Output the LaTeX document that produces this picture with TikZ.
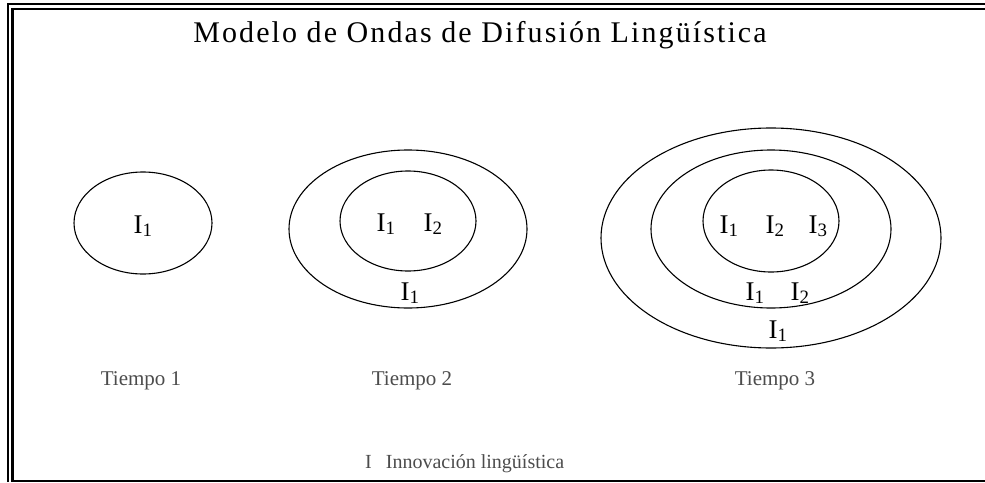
\documentclass[tikz,border=0pt]{standalone}
\usepackage{fontspec}
\setmainfont{Liberation Serif}
\usetikzlibrary{positioning}

\tikzset{
  wave/.style={line width=1.1pt},
  frameline/.style={line width=2.3pt},
  innov/.style={font=\fontsize{27}{30}\selectfont, anchor=base, inner sep=0pt},
  timelbl/.style={font=\fontsize{21}{24}\selectfont, text=black!70, anchor=base, inner sep=0pt},
}

\begin{document}
\begin{tikzpicture}[x=1pt,y=-1pt]
\useasboundingbox (0,0) rectangle (985,482);
% double frame
\draw[frameline] (8,482) -- (8,4) -- (985,4);
\draw[frameline] (985,9) -- (12.5,9) -- (12.5,481) -- (985,481);
\node[font=\fontsize{30}{36}\selectfont\addfontfeatures{LetterSpace=7}, anchor=base, inner sep=0pt] (title) at (480,42) {Modelo de Ondas de Difusión Lingüística};
% centres of the waves
\coordinate (T1) at (143,223);
\coordinate (T2) at (408,221);
\coordinate (T3) at (771,221);
% Tiempo 1
\draw[wave] (T1) ellipse[x radius=69,y radius=51];
\node[innov] (t1a) at (143,233) {I\textsubscript{1}};
% Tiempo 2
\draw[wave] (408,229) ellipse[x radius=119,y radius=79];
\draw[wave] (T2) ellipse[x radius=68,y radius=50];
\node[innov] (t2a) at (386,231) {I\textsubscript{1}};
\node[innov] (t2b) at (433,231) {I\textsubscript{2}};
\node[innov] (t2c) at (410,300) {I\textsubscript{1}};
% Tiempo 3
\draw[wave] (771,238) ellipse[x radius=170,y radius=110];
\draw[wave] (771,229) ellipse[x radius=120,y radius=79];
\draw[wave] (T3) ellipse[x radius=68,y radius=51];
\node[innov] (t3a) at (729,233) {I\textsubscript{1}};
\node[innov] (t3b) at (775,233) {I\textsubscript{2}};
\node[innov] (t3c) at (818,233) {I\textsubscript{3}};
\node[innov] (t3d) at (755,300) {I\textsubscript{1}};
\node[innov] (t3e) at (800,300) {I\textsubscript{2}};
\node[innov] (t3f) at (778,338) {I\textsubscript{1}};
% time labels
\node[timelbl] (time1) at (141,385) {Tiempo 1};
\node[timelbl] (time2) at (412,385) {Tiempo 2};
\node[timelbl] (time3) at (775,385) {Tiempo 3};
\node[timelbl, anchor=base west, font=\fontsize{20}{24}\selectfont] (legend) at (365,468) {I\hspace{14pt}Innovación lingüística};
\end{tikzpicture}
\end{document}
